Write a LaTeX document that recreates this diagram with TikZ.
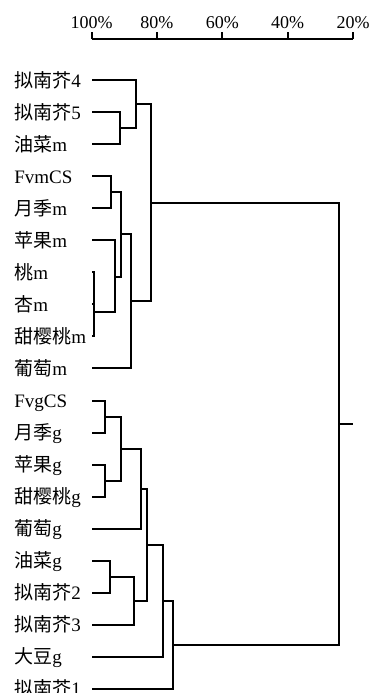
\documentclass[tikz,border=0pt]{standalone}
\usepackage{fontspec}
\setmainfont{Liberation Serif}
\newfontfamily\cjk{Noto Sans CJK SC}
\newcommand{\zh}[1]{{\cjk #1}}
\begin{document}
\begin{tikzpicture}[x=0.75pt,y=-0.75pt,
  link/.style={line width=1.5pt},
  lab/.style={anchor=base west, inner sep=0pt, font=\fontsize{14.25}{17}\selectfont},
  axlab/.style={anchor=base, inner sep=0pt, font=\fontsize{13.5}{16}\selectfont}]
\useasboundingbox (0,0) rectangle (368,693);
\clip (0,0) rectangle (368,693);
% axis
\foreach \k/\t in {0/100\%,1/80\%,2/60\%,3/40\%,4/20\%}{
  \coordinate (a\k) at ({91.5+65.4*\k},39);
  \coordinate (b\k) at ({91.5+65.4*\k},31.5);
  \node[axlab] (al\k) at ({91.5+65.4*\k},28) {\t};
  \draw[link] (a\k) -- (b\k);
}
\draw[link] (a0) -- (a4);
% leaves
\foreach \i/\t in {0/{\zh{拟南芥}4},1/{\zh{拟南芥}5},2/{\zh{油菜}m},3/{FvmCS},4/{\zh{月季}m},
  5/{\zh{苹果}m},6/{\zh{桃}m},7/{\zh{杏}m},8/{\zh{甜樱桃}m},9/{\zh{葡萄}m},
  10/{FvgCS},11/{\zh{月季}g},12/{\zh{苹果}g},13/{\zh{甜樱桃}g},14/{\zh{葡萄}g},
  15/{\zh{油菜}g},16/{\zh{拟南芥}2},17/{\zh{拟南芥}3},18/{\zh{大豆}g},19/{\zh{拟南芥}1}}{
  \node[lab] (t\i) at (14,{80+32.05*\i+7}) {\t};
  \coordinate (l\i) at (92,{80+32.05*\i});
}
% internal nodes, top cluster
\coordinate (n1) at (120,128);
\coordinate (n2) at (136,104);
\coordinate (n3) at (111,192.2);
\coordinate (n4) at (94,312);
\coordinate (n5) at (115,276.5);
\coordinate (n6) at (121,234.3);
\coordinate (n7) at (131,301.4);
\coordinate (n8) at (151,202.7);
% bottom cluster
\coordinate (m1) at (105,416.5);
\coordinate (m2) at (105,480.6);
\coordinate (m3) at (121,448.6);
\coordinate (m4) at (141,488.6);
\coordinate (m5) at (110,576.8);
\coordinate (m6) at (134,600.8);
\coordinate (m7) at (147,544.7);
\coordinate (m8) at (163,600.8);
\coordinate (m9) at (173,644.9);
\coordinate (root) at (339,423.8);
\coordinate (rt) at (353,423.8);
% links
\draw[link] (l1) -| (n1) |- (l2);
\draw[link] (l0) -| (n2) |- (n1);
\draw[link] (l3) -| (n3) |- (l4);
\draw[link] (l6) -| (n4) |- (l8);
\draw[link] (l7) -- (l7 -| n4);
\draw[link] (l5) -| (n5) |- (n4);
\draw[link] (n3) -| (n6) |- (n5);
\draw[link] (n6) -| (n7) |- (l9);
\draw[link] (n2) -| (n8) |- (n7);
\draw[link] (l10) -| (m1) |- (l11);
\draw[link] (l12) -| (m2) |- (l13);
\draw[link] (m1) -| (m3) |- (m2);
\draw[link] (m3) -| (m4) |- (l14);
\draw[link] (l15) -| (m5) |- (l16);
\draw[link] (m5) -| (m6) |- (l17);
\draw[link] (m4) -| (m7) |- (m6);
\draw[link] (m7) -| (m8) |- (l18);
\draw[link] (m8) -| (m9) |- (l19);
\draw[link] (n8) -| (root) |- (m9);
\draw[link] (root) -- (rt);
\end{tikzpicture}
\end{document}
